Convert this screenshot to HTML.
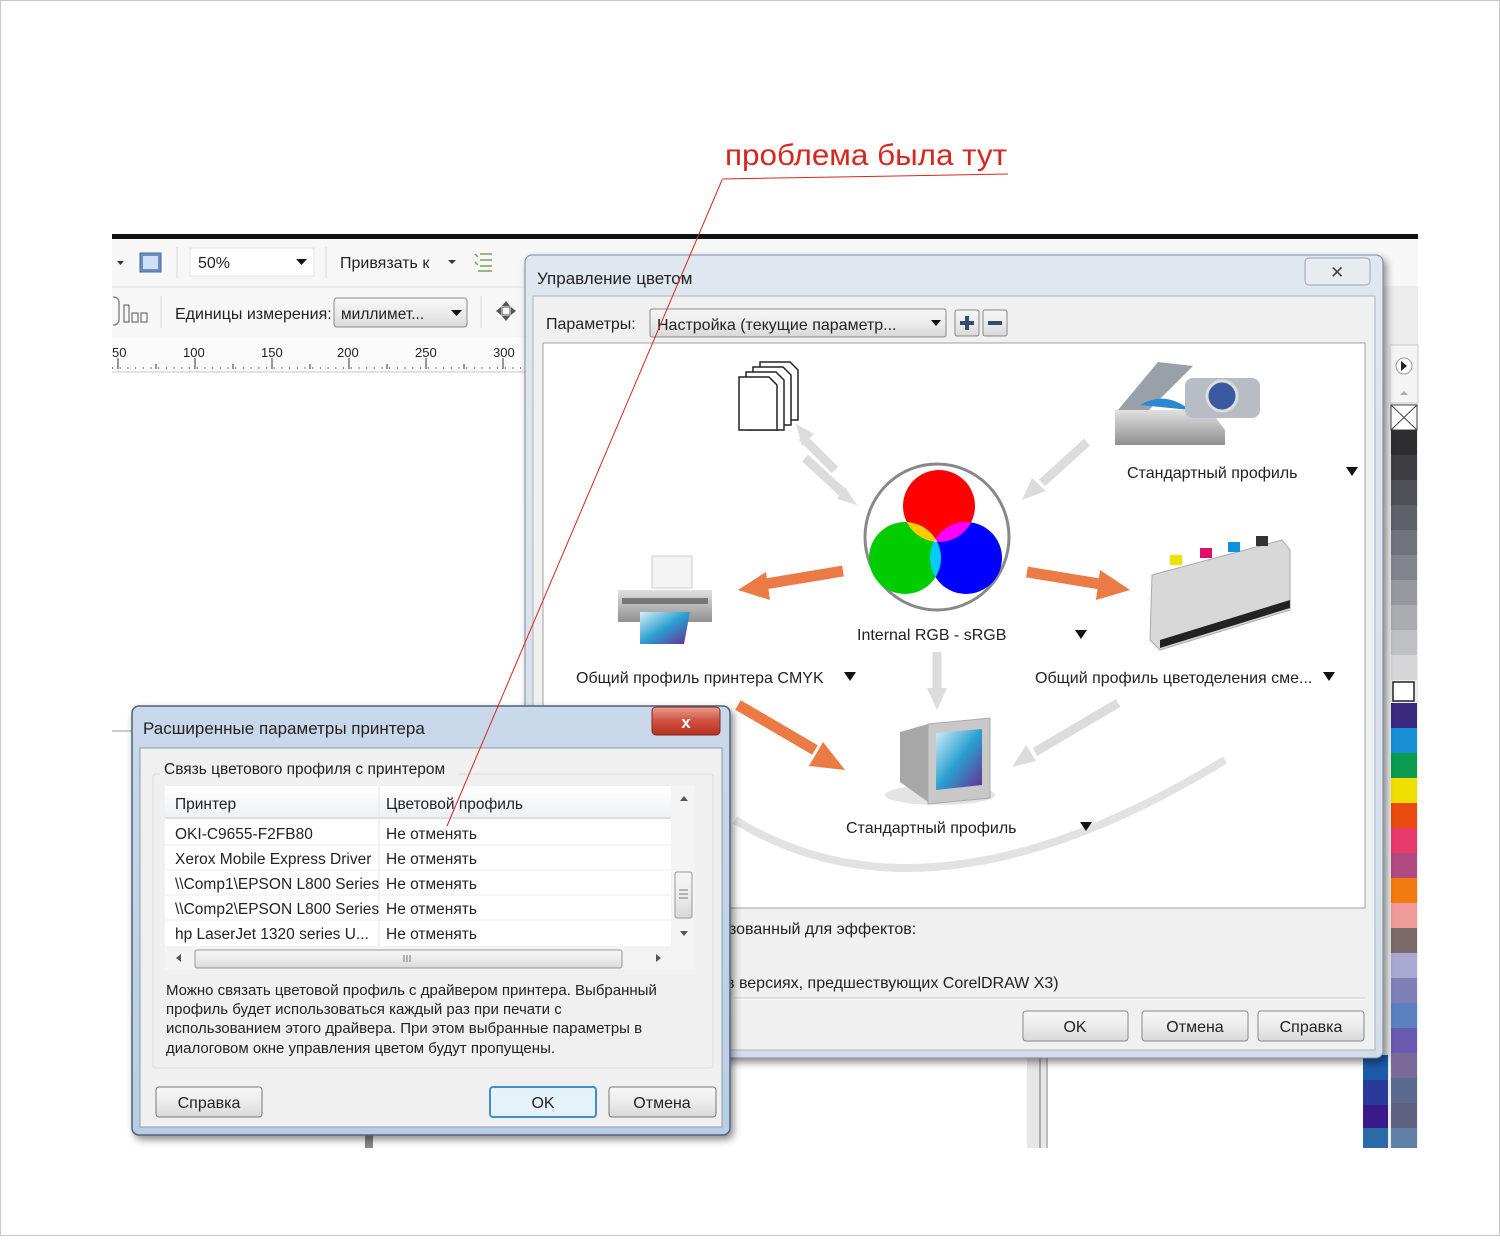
<!DOCTYPE html>
<html><head><meta charset="utf-8"><style>
html,body{margin:0;padding:0;background:#fff}
svg text{font-family:"Liberation Sans","DejaVu Sans",sans-serif}
</style></head><body>
<svg width="1500" height="1236" viewBox="0 0 1500 1236" xmlns="http://www.w3.org/2000/svg">
<defs>
<linearGradient id="btn" x1="0" y1="0" x2="0" y2="1"><stop offset="0" stop-color="#f6f6f6"/><stop offset="0.5" stop-color="#ececec"/><stop offset="1" stop-color="#d8d8d8"/></linearGradient>
<linearGradient id="hdr" x1="0" y1="0" x2="0" y2="1"><stop offset="0" stop-color="#ffffff"/><stop offset="1" stop-color="#eef0f3"/></linearGradient>
<linearGradient id="frame" x1="0" y1="0" x2="0" y2="1"><stop offset="0" stop-color="#dfe7f0"/><stop offset="1" stop-color="#d3dde8"/></linearGradient>
<linearGradient id="frame2" x1="0" y1="0" x2="0" y2="1"><stop offset="0" stop-color="#c9d9ea"/><stop offset="1" stop-color="#b9cde2"/></linearGradient>
<linearGradient id="red" x1="0" y1="0" x2="0" y2="1"><stop offset="0" stop-color="#e8a090"/><stop offset="0.5" stop-color="#d05040"/><stop offset="1" stop-color="#b83020"/></linearGradient>
<linearGradient id="scr" x1="0" y1="0" x2="1" y2="1"><stop offset="0" stop-color="#d8eef8"/><stop offset="0.5" stop-color="#2aa0d0"/><stop offset="1" stop-color="#6a2a90"/></linearGradient>
<linearGradient id="gry" x1="0" y1="0" x2="0" y2="1"><stop offset="0" stop-color="#e0e0e0"/><stop offset="1" stop-color="#909090"/></linearGradient>
<filter id="sh" x="-10%" y="-10%" width="130%" height="130%"><feDropShadow dx="3" dy="4" stdDeviation="4" flood-color="#000" flood-opacity="0.45"/></filter>
</defs>

<rect x="0.5" y="0.5" width="1499" height="1235" fill="#fff" stroke="#c8c8c8"/>

<rect x="112" y="234" width="1306" height="5" fill="#111"/>
<rect x="112" y="239" width="1306" height="98" fill="#f7f7f7"/>
<line x1="112" y1="287" x2="1418" y2="287" stroke="#e2e2e2"/>
<rect x="112" y="337" width="420" height="35" fill="#fbfbfb"/>
<line x1="112" y1="372" x2="530" y2="372" stroke="#c8c8c8"/>
<rect x="1380" y="287" width="38" height="861" fill="#ececec"/>

<path d="M117 261 l7 0 l-3.5 4z" fill="#333"/>
<rect x="140" y="253" width="21" height="19" fill="#6a8ec0" stroke="#4a6a9a"/>
<rect x="143" y="256" width="15" height="13" fill="#cfe0f4"/>
<line x1="177" y1="247" x2="177" y2="278" stroke="#d8d8d8"/>
<rect x="190" y="248" width="124" height="28" fill="#fff" stroke="#e4e4e4"/>
<text x="198" y="268" font-size="16" fill="#222">50%</text>
<path d="M296 259 l11 0 l-5.5 6z" fill="#111"/>
<line x1="326" y1="247" x2="326" y2="278" stroke="#d8d8d8"/>
<text x="340" y="268" font-size="16" fill="#222">Привязать к</text>
<path d="M448 260 l8 0 l-4 4z" fill="#333"/>
<g stroke="#7aa060" stroke-width="1.5"><line x1="480" y1="254" x2="492" y2="254"/><line x1="480" y1="260" x2="492" y2="260"/><line x1="480" y1="266" x2="492" y2="266"/><line x1="478" y1="271" x2="492" y2="271"/><line x1="475" y1="254" x2="478" y2="257"/><line x1="475" y1="262" x2="478" y2="265"/></g>

<path d="M113 297 q6 0 6 6 v16 q0 6 -6 6" fill="none" stroke="#888" stroke-width="1.5"/>
<rect x="124" y="305" width="5" height="17" fill="none" stroke="#555"/>
<rect x="132" y="313" width="6" height="9" fill="none" stroke="#555"/>
<rect x="141" y="313" width="6" height="9" fill="none" stroke="#555"/>
<line x1="161" y1="296" x2="161" y2="328" stroke="#d8d8d8"/>
<text x="175" y="319" font-size="16" fill="#222">Единицы измерения:</text>
<rect x="334" y="298" width="133" height="29" rx="3" fill="url(#btn)" stroke="#8a8a8a"/>
<text x="341" y="319" font-size="15.5" fill="#222">миллимет...</text>
<path d="M451 310 l11 0 l-5.5 6z" fill="#111"/>
<line x1="481" y1="296" x2="481" y2="328" stroke="#d8d8d8"/>
<g fill="#555"><path d="M506 301 l4 5 h-8z M506 321 l4 -5 h-8z M496 311 l5 -4 v8z M516 311 l-5 -4 v8z"/><rect x="502" y="307" width="8" height="8" fill="none" stroke="#555"/></g>

<g font-size="13" fill="#222">
<text x="112" y="357">50</text><text x="183" y="357">100</text><text x="261" y="357">150</text><text x="337" y="357">200</text><text x="415" y="357">250</text><text x="493" y="357">300</text></g>
<g stroke="#333">
<line x1="118" y1="358" x2="118" y2="369"/><line x1="195" y1="358" x2="195" y2="369"/><line x1="272" y1="358" x2="272" y2="369"/><line x1="349" y1="358" x2="349" y2="369"/><line x1="426" y1="358" x2="426" y2="369"/><line x1="503" y1="358" x2="503" y2="369"/>
</g>
<line x1="112" y1="368" x2="525" y2="368" stroke="#555" stroke-width="1.5" stroke-dasharray="1 6.7"/>
<line x1="156" y1="364" x2="156" y2="369" stroke="#333"/><line x1="233" y1="364" x2="233" y2="369" stroke="#333"/><line x1="310" y1="364" x2="310" y2="369" stroke="#333"/><line x1="387" y1="364" x2="387" y2="369" stroke="#333"/><line x1="464" y1="364" x2="464" y2="369" stroke="#333"/>

<line x1="112" y1="731" x2="135" y2="731" stroke="#999"/>
<rect x="365" y="1130" width="8" height="18" fill="#888"/>
<rect x="1027" y="1055" width="20" height="93" fill="#e6e6e6"/>
<line x1="1040" y1="1055" x2="1040" y2="1148" stroke="#aaa" stroke-width="2"/>
<line x1="1047" y1="1055" x2="1047" y2="1148" stroke="#bbb" stroke-width="2"/>

<rect x="1390" y="345" width="28" height="58" fill="#f4f4f4" stroke="#ccc"/>
<circle cx="1404" cy="366" r="8" fill="#fff" stroke="#999"/><path d="M1401 361 l6 5 l-6 5z" fill="#222"/>
<path d="M1400 395 l4 -4 l4 4z" fill="#aaa"/>
<rect x="1391" y="405" width="26" height="25" fill="#fff" stroke="#444"/>
<path d="M1391 405 L1417 430 M1417 405 L1391 430" stroke="#444"/>
<g>
<rect x="1391" y="430" width="26" height="25" fill="#2e2e30"/>
<rect x="1391" y="455" width="26" height="25" fill="#3e3e42"/>
<rect x="1391" y="480" width="26" height="25" fill="#4e5056"/>
<rect x="1391" y="505" width="26" height="25" fill="#5e6168"/>
<rect x="1391" y="530" width="26" height="25" fill="#70737a"/>
<rect x="1391" y="555" width="26" height="25" fill="#82858c"/>
<rect x="1391" y="580" width="26" height="25" fill="#96989e"/>
<rect x="1391" y="605" width="26" height="25" fill="#aaacb0"/>
<rect x="1391" y="630" width="26" height="25" fill="#bfc0c4"/>
<rect x="1391" y="655" width="26" height="25" fill="#d6d6d8"/>
<rect x="1393" y="682" width="21" height="19" fill="#fff" stroke="#222" stroke-width="1.5"/>
<rect x="1391" y="703" width="26" height="25" fill="#3a2a80"/>
<rect x="1391" y="728" width="26" height="25" fill="#1890d8"/>
<rect x="1391" y="753" width="26" height="25" fill="#0a9a50"/>
<rect x="1391" y="778" width="26" height="25" fill="#f0e000"/>
<rect x="1391" y="803" width="26" height="25" fill="#e84a10"/>
<rect x="1391" y="828" width="26" height="25" fill="#e83a6a"/>
<rect x="1391" y="853" width="26" height="25" fill="#b04a80"/>
<rect x="1391" y="878" width="26" height="25" fill="#f07a10"/>
<rect x="1391" y="903" width="26" height="25" fill="#f09a9a"/>
<rect x="1391" y="928" width="26" height="25" fill="#7a6a6a"/>
<rect x="1391" y="953" width="26" height="25" fill="#a8a8d0"/>
<rect x="1391" y="978" width="26" height="25" fill="#8080b8"/>
<rect x="1391" y="1003" width="26" height="25" fill="#5a80c0"/>
<rect x="1391" y="1028" width="26" height="25" fill="#6a5ab0"/>
<rect x="1391" y="1053" width="26" height="25" fill="#7a6a9a"/>
<rect x="1391" y="1078" width="26" height="25" fill="#5a6a90"/>
<rect x="1391" y="1103" width="26" height="25" fill="#606080"/>
<rect x="1391" y="1128" width="26" height="20" fill="#6080a8"/>
<rect x="1363" y="1055" width="25" height="25" fill="#1a5aa8"/>
<rect x="1363" y="1080" width="25" height="25" fill="#2a3a9a"/>
<rect x="1363" y="1105" width="25" height="23" fill="#3a1a8a"/>
<rect x="1363" y="1128" width="25" height="20" fill="#2a6aa8"/>
</g>

<g filter="url(#sh)">
<rect x="525" y="255" width="858" height="803" rx="7" fill="url(#frame)" stroke="#7e8c9c"/>
</g>
<text x="537" y="284" font-size="17" fill="#222">Управление цветом</text>
<rect x="1305" y="258" width="65" height="27" rx="4" fill="#e6ecf2" stroke="#9aa6b4"/>
<text x="1330" y="278" font-size="17" fill="#444">✕</text>
<rect x="533" y="296" width="842" height="754" fill="#f0f0f0" stroke="#a8b4c0"/>
<text x="546" y="329" font-size="16" fill="#222">Параметры:</text>
<rect x="650" y="309" width="296" height="28" rx="2" fill="url(#btn)" stroke="#888"/>
<text x="657" y="330" font-size="16" fill="#222">Настройка (текущие параметр...</text>
<path d="M931 320 l10 0 l-5 6z" fill="#111"/>
<rect x="955" y="310" width="24" height="26" rx="2" fill="url(#btn)" stroke="#888"/>
<path d="M960 323 h14 M967 316 v14" stroke="#3a4a6a" stroke-width="4"/>
<rect x="983" y="310" width="24" height="26" rx="2" fill="url(#btn)" stroke="#888"/>
<path d="M988 323 h14" stroke="#3a4a6a" stroke-width="4"/>
<rect x="543" y="343" width="822" height="565" fill="#fff" stroke="#a0a0a0"/>

<path d="M735 820 Q 930 940 1225 760" fill="none" stroke="#e2e2e2" stroke-width="8"/>
<g stroke="#dcdcdc" stroke-width="9" fill="#dcdcdc">
<line x1="835" y1="470" x2="802" y2="437"/><path d="M796 424 l18 10 l-12 12z" stroke="none"/>
<line x1="805" y1="458" x2="842" y2="492"/><path d="M857 505 l-20 -6 l8 -12z" stroke="none"/>
<line x1="1087" y1="442" x2="1042" y2="483"/><path d="M1022 500 l10 -22 l14 13z" stroke="none"/>
<line x1="937" y1="652" x2="937" y2="690"/><path d="M927 688 h20 l-10 22z" stroke="none"/>
<line x1="1118" y1="703" x2="1035" y2="752"/><path d="M1012 767 l14 -22 l10 16z" stroke="none"/>
</g>
<g stroke="#ec7a45" stroke-width="11" fill="#ec7a45">
<line x1="843" y1="571" x2="765" y2="584"/><path d="M738 590 l28 -18 l4 28z" stroke="none"/>
<line x1="1027" y1="572" x2="1100" y2="584"/><path d="M1130 590 l-30 -20 l-4 30z" stroke="none"/>
<line x1="738" y1="705" x2="815" y2="750"/><path d="M845 770 l-36 -4 l14 -24z" stroke="none"/>
</g>
<ellipse cx="937" cy="537" rx="72" ry="73" fill="#fff" stroke="#888" stroke-width="3"/>
<g style="isolation:isolate">
<ellipse cx="939" cy="506" rx="36" ry="36" fill="#ff0000" style="mix-blend-mode:screen"/>
<ellipse cx="905" cy="558" rx="36" ry="36" fill="#00cc00" style="mix-blend-mode:screen"/>
<ellipse cx="966" cy="558" rx="36" ry="36" fill="#0000ff" style="mix-blend-mode:screen"/>
</g>
<g stroke="#222" stroke-width="1.5" fill="#fff">
<path d="M760 362 h30 l8 8 v50 h-38z"/><path d="M753 367 h30 l8 8 v50 h-38z"/><path d="M746 372 h30 l8 8 v50 h-38z"/><path d="M739 377 h30 l8 8 v45 h-38z"/>
</g>
<path d="M1118 410 l40 -48 l35 4 l-45 45z" fill="#9aa0a8"/>
<path d="M1115 410 h95 l15 20 v15 h-110z" fill="url(#gry)"/>
<path d="M1140 405 q25 -15 50 5 z" fill="#2a8ad0"/>
<rect x="1185" y="378" width="75" height="40" rx="8" fill="#b8bcc4"/>
<circle cx="1222" cy="396" r="15" fill="#3a5aa0" stroke="#ddd" stroke-width="3"/>
<rect x="652" y="556" width="40" height="32" fill="#f4f4f4" stroke="#ccc"/>
<path d="M618 590 h94 v32 h-94z" fill="url(#gry)"/>
<rect x="622" y="598" width="86" height="6" fill="#777"/>
<path d="M640 612 h50 l-6 32 h-44z" fill="url(#scr)"/>
<path d="M1152 575 l130 -35 l8 10 v60 l-130 40 l-10 -10z" fill="#d8d8d8" stroke="#aaa"/>
<path d="M1160 640 l130 -40 v8 l-130 40z" fill="#222"/>
<rect x="1170" y="555" width="12" height="10" fill="#f0e000"/><rect x="1200" y="548" width="12" height="10" fill="#e0106a"/><rect x="1228" y="542" width="12" height="10" fill="#1090e0"/><rect x="1256" y="536" width="12" height="10" fill="#333"/>
<ellipse cx="940" cy="795" rx="55" ry="10" fill="#e4e4e4"/>
<path d="M900 732 l28 -8 v78 l-28 -20z" fill="#a8a8a8"/>
<path d="M928 724 l62 -6 v80 l-62 6z" fill="#c8c8c8" stroke="#aaa"/>
<path d="M936 733 l46 -4 v56 l-46 5z" fill="url(#scr)"/>

<g font-size="16" fill="#222">
<text x="857" y="640">Internal RGB - sRGB</text>
<text x="1127" y="478">Стандартный профиль</text>
<text x="576" y="683">Общий профиль принтера CMYK</text>
<text x="1035" y="683">Общий профиль цветоделения сме...</text>
<text x="846" y="833">Стандартный профиль</text>
</g>
<g fill="#111">
<path d="M1075 630 h12 l-6 9z"/><path d="M1346 467 h12 l-6 9z"/><path d="M844 672 h12 l-6 9z"/><path d="M1323 672 h12 l-6 9z"/><path d="M1080 822 h12 l-6 9z"/>
</g>

<text x="729" y="934" font-size="16" fill="#222">зованный для эффектов:</text>
<text x="726" y="988" font-size="16" fill="#222">в версиях, предшествующих CorelDRAW X3)</text>
<line x1="735" y1="998" x2="1365" y2="998" stroke="#c8c8c8"/>
<line x1="735" y1="999" x2="1365" y2="999" stroke="#fff"/>
<rect x="1023" y="1011" width="105" height="30" rx="3" fill="url(#btn)" stroke="#888"/>
<text x="1075" y="1032" font-size="16" fill="#222" text-anchor="middle">OK</text>
<rect x="1142" y="1011" width="106" height="30" rx="3" fill="url(#btn)" stroke="#888"/>
<text x="1195" y="1032" font-size="16" fill="#222" text-anchor="middle">Отмена</text>
<rect x="1258" y="1011" width="106" height="30" rx="3" fill="url(#btn)" stroke="#888"/>
<text x="1311" y="1032" font-size="16" fill="#222" text-anchor="middle">Справка</text>

<g filter="url(#sh)">
<rect x="132" y="706" width="598" height="429" rx="7" fill="url(#frame2)" stroke="#50607a" stroke-width="1.5"/>
</g>
<text x="143" y="734" font-size="17" fill="#222">Расширенные параметры принтера</text>
<rect x="652" y="707" width="68" height="28" rx="4" fill="url(#red)" stroke="#7a2a20"/>
<text x="686" y="728" font-size="17" font-weight="bold" fill="#fff" text-anchor="middle">x</text>
<rect x="140" y="748" width="582" height="379" fill="#f0f0f0" stroke="#8a9ab0"/>
<rect x="153" y="774" width="560" height="294" rx="3" fill="none" stroke="#dcdcdc"/>
<rect x="160" y="762" width="298" height="18" fill="#f0f0f0"/>
<text x="164" y="774" font-size="15.5" fill="#222">Связь цветового профиля с принтером</text>
<rect x="165" y="786" width="530" height="184" fill="#f4f4f4"/>
<rect x="165" y="786" width="506" height="160" fill="#fff"/>
<rect x="165" y="786" width="506" height="32" fill="url(#hdr)"/>
<line x1="165" y1="818" x2="671" y2="818" stroke="#e0e0e0" stroke-width="2"/>
<line x1="379" y1="786" x2="379" y2="946" stroke="#e6e6e6"/>
<g stroke="#eeeeee"><line x1="165" y1="845" x2="671" y2="845"/><line x1="165" y1="870" x2="671" y2="870"/><line x1="165" y1="895" x2="671" y2="895"/><line x1="165" y1="920" x2="671" y2="920"/></g>
<g font-size="15.5" fill="#222">
<text x="175" y="809">Принтер</text><text x="386" y="809">Цветовой профиль</text>
<text x="175" y="839">OKI-C9655-F2FB80</text><text x="386" y="839">Не отменять</text>
<text x="175" y="864">Xerox Mobile Express Driver</text><text x="386" y="864">Не отменять</text>
<text x="175" y="889">\\Comp1\EPSON L800 Series</text><text x="386" y="889">Не отменять</text>
<text x="175" y="914">\\Comp2\EPSON L800 Series</text><text x="386" y="914">Не отменять</text>
<text x="175" y="939">hp LaserJet 1320 series U...</text><text x="386" y="939">Не отменять</text>
</g>
<path d="M680 801 l4 -5 l4 5z" fill="#555"/>
<path d="M680 931 l4 5 l4 -5z" fill="#555"/>
<rect x="675" y="872" width="17" height="46" rx="2" fill="url(#btn)" stroke="#999"/>
<path d="M679 890 h9 M679 894 h9 M679 898 h9" stroke="#777"/>
<path d="M181 954 l-5 4 l5 4z" fill="#555"/>
<path d="M656 954 l5 4 l-5 4z" fill="#555"/>
<rect x="195" y="950" width="427" height="18" rx="2" fill="url(#btn)" stroke="#999"/>
<path d="M404 955 v7 M407 955 v7 M410 955 v7" stroke="#777"/>
<g font-size="15" fill="#222">
<text x="166" y="995">Можно связать цветовой профиль с драйвером принтера. Выбранный</text>
<text x="166" y="1014">профиль будет использоваться каждый раз при печати с</text>
<text x="166" y="1033">использованием этого драйвера. При этом выбранные параметры в</text>
<text x="166" y="1053">диалоговом окне управления цветом будут пропущены.</text>
</g>
<rect x="156" y="1087" width="106" height="30" rx="3" fill="url(#btn)" stroke="#777"/>
<text x="209" y="1108" font-size="16" fill="#222" text-anchor="middle">Справка</text>
<rect x="490" y="1087" width="106" height="30" rx="3" fill="#e6f2fa" stroke="#3c90d0" stroke-width="2"/>
<text x="543" y="1108" font-size="16" fill="#222" text-anchor="middle">OK</text>
<rect x="609" y="1087" width="107" height="30" rx="3" fill="url(#btn)" stroke="#777"/>
<text x="662" y="1108" font-size="16" fill="#222" text-anchor="middle">Отмена</text>

<text x="725" y="165" font-size="30" fill="#d9261c" textLength="282" lengthAdjust="spacingAndGlyphs">проблема была тут</text>
<line x1="722" y1="179" x2="1008" y2="174" stroke="#d9261c" stroke-width="1"/>
<line x1="722" y1="180" x2="447" y2="826" stroke="#d9261c" stroke-width="1"/>
</svg>
</body></html>
